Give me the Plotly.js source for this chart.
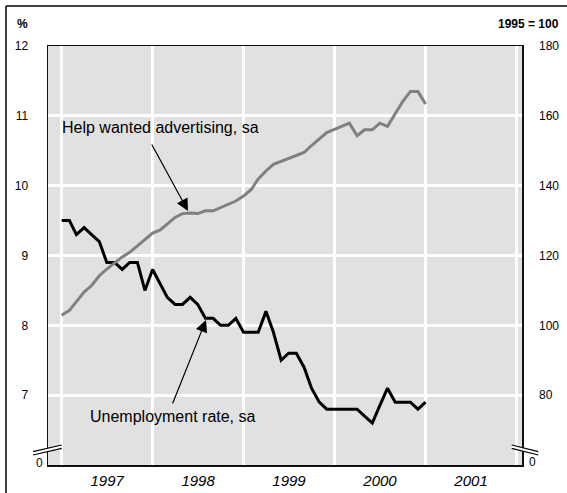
<!DOCTYPE html>
<html>
<head>
<meta charset="utf-8">
<script src="https://cdn.plot.ly/plotly-3.0.1.min.js"></script>
<style>html,body{margin:0;padding:0;background:#fff;}</style>
</head>
<body>
<div id="chart" style="width:567px;height:493px;"></div>
<script>
// Monthly data, January 1997 to January 2001
const startYear = 1997;
const startMonth = 1;
const unemploymentRate = [
  9.5, 9.5, 9.3, 9.4, 9.3, 9.2, 8.9, 8.9, 8.8, 8.9, 8.9, 8.5,
  8.8, 8.6, 8.4, 8.3, 8.3, 8.4, 8.3, 8.1, 8.1, 8.0, 8.0, 8.1,
  7.9, 7.9, 7.9, 8.2, 7.9, 7.5, 7.6, 7.6, 7.4, 7.1, 6.9, 6.8,
  6.8, 6.8, 6.8, 6.8, 6.7, 6.6, 6.85, 7.1, 6.9, 6.9, 6.9, 6.8,
  6.9
];
const helpWantedIndex = [
  102.9, 104.3, 106.8, 109.5, 111.4, 114.2, 116.1, 117.9, 119.6, 120.9, 122.8, 124.7,
  126.4, 127.3, 129.0, 130.9, 132.0, 132.2, 132.0, 132.8, 132.8, 133.7, 134.6, 135.6,
  137.0, 138.9, 141.9, 144.2, 146.1, 146.9, 147.9, 148.7, 149.5, 151.5, 153.3, 155.2,
  156.1, 157.1, 157.9, 154.3, 156.0, 156.0, 157.9, 157.0, 160.5, 164.1, 167.0, 167.0,
  163.4
];
const leftTicks = [7, 8, 9, 10, 11, 12];
const rightTicks = [80, 100, 120, 140, 160, 180];
const leftUnit = '%';
const rightUnit = '1995 = 100';
const helpLabel = 'Help wanted advertising, sa';
const unempLabel = 'Unemployment rate, sa';

function monthDates(n) {
  const out = [];
  for (let i = 0; i < n; i++) {
    const t = (startMonth - 1) + i;
    const y = startYear + Math.floor(t / 12);
    const m = (t % 12) + 1;
    out.push(y + '-' + String(m).padStart(2, '0') + '-01');
  }
  return out;
}
const dates = monthDates(unemploymentRate.length);

const FONT = 'Liberation Sans, Arial, Helvetica, sans-serif';

const traces = [
  {
    x: dates, y: helpWantedIndex, yaxis: 'y2', type: 'scatter', mode: 'lines',
    line: {color: '#808080', width: 3}, hoverinfo: 'skip', showlegend: false
  },
  {
    x: dates, y: unemploymentRate, yaxis: 'y', type: 'scatter', mode: 'lines',
    line: {color: '#000000', width: 3}, hoverinfo: 'skip', showlegend: false
  }
];

// plot area pixel geometry helpers for decorations
const L = 48, R = 522, T = 46, B = 465;
const px = v => (v - L) / (R - L);
const py = v => (B - v) / (B - T);

function seg(x0, y0, x1, y1, color, w) {
  return {type: 'line', xref: 'paper', yref: 'paper', x0: px(x0), y0: py(y0), x1: px(x1), y1: py(y1),
          line: {color: color, width: w}, layer: 'above'};
}
function quad(pts) {
  return 'M' + pts.map(q => px(q[0]) + ',' + py(q[1])).join(' L') + ' Z';
}

const shapes = [
  // outer frame (left and top edges visible)
  seg(6, 6, 6, 493, '#000', 1.5),
  seg(6, 6, 567, 6, '#000', 1.5),
  // left axis break
  {type: 'path', xref: 'paper', yref: 'paper', path: quad([[33, 451.7], [61.7, 445], [61.7, 448.3], [33, 455]]),
   fillcolor: '#ffffff', line: {width: 0}, layer: 'above'},
  seg(33, 451.7, 61.7, 445, '#000', 1.2),
  seg(33, 455, 61.7, 448.3, '#000', 1.2),
  // right axis break
  {type: 'path', xref: 'paper', yref: 'paper', path: quad([[511.7, 445], [538.3, 451.7], [538.3, 455], [511.7, 448.3]]),
   fillcolor: '#ffffff', line: {width: 0}, layer: 'above'},
  seg(511.7, 445, 538.3, 451.7, '#000', 1.2),
  seg(511.7, 448.3, 538.3, 455, '#000', 1.2)
];

const annotations = [
  {xref: 'paper', yref: 'paper', x: px(22.5), y: py(24), text: '<b>' + leftUnit + '</b>', showarrow: false,
   font: {family: FONT, size: 12, color: '#000'}, xanchor: 'center', yanchor: 'middle'},
  {xref: 'paper', yref: 'paper', x: px(561), y: py(24), text: '<b>' + rightUnit + '</b>', showarrow: false,
   font: {family: FONT, size: 12, color: '#000'}, xanchor: 'right', yanchor: 'middle'},
  {xref: 'paper', yref: 'paper', x: px(39), y: py(462.5), text: '0', showarrow: false,
   font: {family: FONT, size: 12, color: '#000'}, xanchor: 'center', yanchor: 'middle'},
  {xref: 'paper', yref: 'paper', x: px(532), y: py(461.5), text: '0', showarrow: false,
   font: {family: FONT, size: 12, color: '#000'}, xanchor: 'center', yanchor: 'middle'},
  {xref: 'paper', yref: 'paper', x: px(60), y: py(128), text: helpLabel, showarrow: false,
   font: {family: FONT, size: 16, color: '#000'}, xanchor: 'left', yanchor: 'middle'},
  {xref: 'paper', yref: 'paper', x: px(88), y: py(416), text: unempLabel, showarrow: false,
   font: {family: FONT, size: 16, color: '#000'}, xanchor: 'left', yanchor: 'middle'},
  // arrows
  {xref: 'paper', yref: 'paper', x: px(188), y: py(211), ax: 151 - 188, ay: 143 - 211, text: '',
   showarrow: true, arrowhead: 2, arrowsize: 2, arrowwidth: 1.2, arrowcolor: '#000', standoff: 0},
  {xref: 'paper', yref: 'paper', x: px(206), y: py(320), ax: 172 - 206, ay: 405 - 320, text: '',
   showarrow: true, arrowhead: 2, arrowsize: 2, arrowwidth: 1.2, arrowcolor: '#000', standoff: 0}
];

const layout = {
  width: 567, height: 493,
  margin: {l: L, r: 567 - R, t: T, b: 493 - B, pad: 0},
  paper_bgcolor: '#ffffff',
  plot_bgcolor: '#e1e1e1',
  showlegend: false,
  font: {family: FONT, color: '#000'},
  xaxis: {
    type: 'date',
    range: ['1996-11-07', '2002-01-23'],
    tick0: '1997-01-01', dtick: 'M12',
    ticklabelmode: 'period', tickformat: '%Y',
    tickfont: {family: FONT, size: 15, style: 'italic', color: '#000'},
    ticks: '', ticklabelstandoff: 1,
    showgrid: true, gridcolor: '#ffffff', gridwidth: 3,
    showline: true, mirror: true, linecolor: '#111', linewidth: 1.5,
    zeroline: false, fixedrange: true
  },
  yaxis: {
    range: [6, 12],
    tickvals: leftTicks, ticktext: leftTicks.map(String),
    tickfont: {family: FONT, size: 12, color: '#000'},
    ticks: '', ticklabelstandoff: 16,
    showgrid: true, gridcolor: '#ffffff', gridwidth: 3,
    showline: true, mirror: true, linecolor: '#111', linewidth: 1.5,
    zeroline: false, fixedrange: true
  },
  yaxis2: {
    range: [60, 180], overlaying: 'y', side: 'right',
    tickvals: rightTicks, ticktext: rightTicks.map(String),
    tickfont: {family: FONT, size: 12, color: '#000'},
    ticks: '', ticklabelstandoff: 16,
    showgrid: false, showline: false, zeroline: false, fixedrange: true
  },
  shapes: shapes,
  annotations: annotations
};

Plotly.newPlot('chart', traces, layout, {displayModeBar: false, staticPlot: true});
</script>
</body>
</html>
